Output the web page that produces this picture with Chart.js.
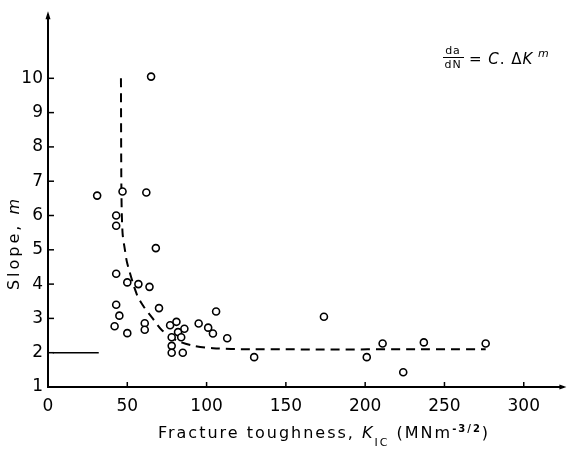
<!DOCTYPE html>
<html lang="en">
<head>
  <meta charset="UTF-8">
  <title>slope vs fracture toughness</title>
  <style>
    body { margin: 0; background: #fff; }
    #wrap { width: 569px; height: 450px; }
  </style>
</head>
<body>
  <div id="wrap"><canvas id="myChart"></canvas></div>

  <script src="https://cdn.jsdelivr.net/npm/chart.js"></script>
  <script>
    // measured points: fracture toughness K_IC and slope m
    const toughness = [31, 43, 43, 47, 62, 65, 68, 43, 50, 57, 64, 43, 45, 70, 42, 50, 61, 61,
      77, 81, 86, 82, 78, 84, 78, 78, 85, 95, 101, 104, 106, 113, 130, 174, 201, 211, 224, 237, 276]
    const slope = [6.58, 6.0, 5.7, 6.7, 6.67, 10.05, 5.05, 4.3, 4.05, 4.0, 3.92, 3.4, 3.08, 3.3, 2.77, 2.57, 2.86, 2.67,
      2.8, 2.9, 2.7, 2.6, 2.45, 2.45, 2.2, 2.0, 2.0, 2.85, 2.73, 2.56, 3.2, 2.42, 1.87, 3.05, 1.87, 2.27, 1.43, 2.3, 2.27]

    // dashed trend curve
    const curveX = [46, 46.3, 47, 48.5, 50, 56, 60, 66, 72, 81, 91, 104, 127, 276]
    const curveY = [10, 6.7, 5.5, 5.0, 4.6, 3.7, 3.37, 3.0, 2.65, 2.36, 2.21, 2.13, 2.1, 2.1]

    // short solid line at m = 2
    const baseX = [3, 32]
    const baseY = [2, 2]

    const xTicks = [0, 50, 100, 150, 200, 250, 300]
    const yTicks = [1, 2, 3, 4, 5, 6, 7, 8, 9, 10]

    const zip = (xs, ys) => xs.map((x, i) => ({ x: x, y: ys[i] }))
    const FONT = '"DejaVu Sans", sans-serif'

    // draw text made of runs with different fonts / offsets
    const drawRuns = (ctx, x, y, runs) => {
      let cx = x
      runs.forEach(r => {
        ctx.font = r.font
        ctx.fillText(r.t, cx, y + (r.dy || 0))
        cx += ctx.measureText(r.t).width
      })
      return cx - x
    }
    const runsWidth = (ctx, runs) => {
      let w = 0
      runs.forEach(r => { ctx.font = r.font; w += ctx.measureText(r.t).width })
      return w
    }

    const decor = {
      id: 'decor',
      afterDraw(chart) {
        const ctx = chart.ctx
        const xs = chart.scales.x
        const ys = chart.scales.y
        const a = chart.chartArea
        ctx.save()
        ctx.strokeStyle = '#000'
        ctx.fillStyle = '#000'
        ctx.lineWidth = 1.5

        // inward ticks
        xTicks.forEach(v => {
          const px = xs.getPixelForValue(v)
          ctx.beginPath(); ctx.moveTo(px, a.bottom); ctx.lineTo(px, a.bottom - 5); ctx.stroke()
        })
        yTicks.forEach(v => {
          const py = ys.getPixelForValue(v)
          ctx.beginPath(); ctx.moveTo(a.left, py); ctx.lineTo(a.left + 6, py); ctx.stroke()
        })

        // small arrow heads at axis ends
        ctx.beginPath()
        ctx.moveTo(a.left, a.top - 4); ctx.lineTo(a.left - 2.5, a.top + 4); ctx.lineTo(a.left + 2.5, a.top + 4)
        ctx.fill()
        ctx.beginPath()
        ctx.moveTo(a.right + 3, a.bottom); ctx.lineTo(a.right - 4, a.bottom - 2.5); ctx.lineTo(a.right - 4, a.bottom + 2.5)
        ctx.fill()

        ctx.textBaseline = 'alphabetic'
        ctx.letterSpacing = '2px'

        // x title
        const xRuns = [
          { t: 'Fracture toughness, ', font: '16px ' + FONT },
          { t: 'K', font: 'italic 16px ' + FONT },
          { t: 'IC', font: '11px ' + FONT, dy: 8 },
          { t: ' (MNm', font: '16px ' + FONT },
          { t: '-3/2', font: 'bold 10px ' + FONT, dy: -6 },
          { t: ')', font: '16px ' + FONT }
        ]
        const xw = runsWidth(ctx, xRuns)
        drawRuns(ctx, 324 - xw / 2, 438, xRuns)

        // y title (rotated)
        ctx.letterSpacing = '3px'
        const yRuns = [
          { t: 'Slope, ', font: '16px ' + FONT },
          { t: 'm', font: 'italic 16px ' + FONT }
        ]
        const yw = runsWidth(ctx, yRuns)
        ctx.save()
        ctx.translate(19, 243)
        ctx.rotate(-Math.PI / 2)
        drawRuns(ctx, -yw / 2, 0, yRuns)
        ctx.restore()

        // equation da/dN = C. ΔK^m
        ctx.letterSpacing = '1px'
        ctx.textAlign = 'center'
        ctx.font = '11px ' + FONT
        ctx.fillText('da', 453, 54)
        ctx.fillText('dN', 453, 68)
        ctx.lineWidth = 1
        ctx.beginPath(); ctx.moveTo(443, 57.5); ctx.lineTo(464, 57.5); ctx.stroke()
        ctx.textAlign = 'left'
        drawRuns(ctx, 469, 64, [
          { t: '= ', font: '15px ' + FONT },
          { t: 'C', font: 'italic 15px ' + FONT },
          { t: '. Δ', font: '15px ' + FONT },
          { t: 'K', font: 'italic 15px ' + FONT },
          { t: ' m', font: 'italic 11px ' + FONT, dy: -7 }
        ])
        ctx.restore()
      }
    }

    const ctx = document.getElementById('myChart')

    new Chart(ctx, {
      type: 'scatter',
      data: {
        datasets: [
          {
            label: 'data',
            data: zip(toughness, slope),
            pointStyle: 'circle',
            pointRadius: 3.5,
            pointBorderWidth: 1.6,
            pointBorderColor: '#000',
            pointBackgroundColor: '#fff',
            showLine: false
          },
          {
            label: 'trend',
            data: zip(curveX, curveY),
            showLine: true,
            pointRadius: 0,
            borderColor: '#000',
            borderWidth: 2,
            borderDash: [9, 6],
            tension: 0.3,
            fill: false
          },
          {
            label: 'base',
            data: zip(baseX, baseY),
            showLine: true,
            pointRadius: 0,
            borderColor: '#000',
            borderWidth: 1.5,
            fill: false
          }
        ]
      },
      options: {
        responsive: true,
        maintainAspectRatio: false,
        animation: false,
        events: [],
        layout: { padding: { top: 12, right: 3, left: 0, bottom: 0 } },
        plugins: {
          legend: { display: false },
          tooltip: { enabled: false }
        },
        scales: {
          x: {
            type: 'linear',
            min: 0,
            max: 325,
            afterBuildTicks: (s) => { s.ticks = xTicks.map(v => ({ value: v })) },
            afterFit: (s) => { s.height = 63 },
            grid: { display: true, drawOnChartArea: false, drawTicks: false },
            border: { display: true, color: '#000', width: 2 },
            ticks: {
              color: '#000',
              padding: 9,
              maxRotation: 0,
              font: { family: 'DejaVu Sans', size: 17 }
            }
          },
          y: {
            type: 'linear',
            min: 1,
            max: 11.84,
            afterBuildTicks: (s) => { s.ticks = yTicks.map(v => ({ value: v })) },
            afterFit: (s) => { s.width = 48 },
            grid: { display: true, drawOnChartArea: false, drawTicks: false },
            border: { display: true, color: '#000', width: 2 },
            ticks: {
              color: '#000',
              padding: 5,
              font: { family: 'DejaVu Sans', size: 17 }
            }
          }
        }
      },
      plugins: [decor]
    })
  </script>
</body>
</html>
